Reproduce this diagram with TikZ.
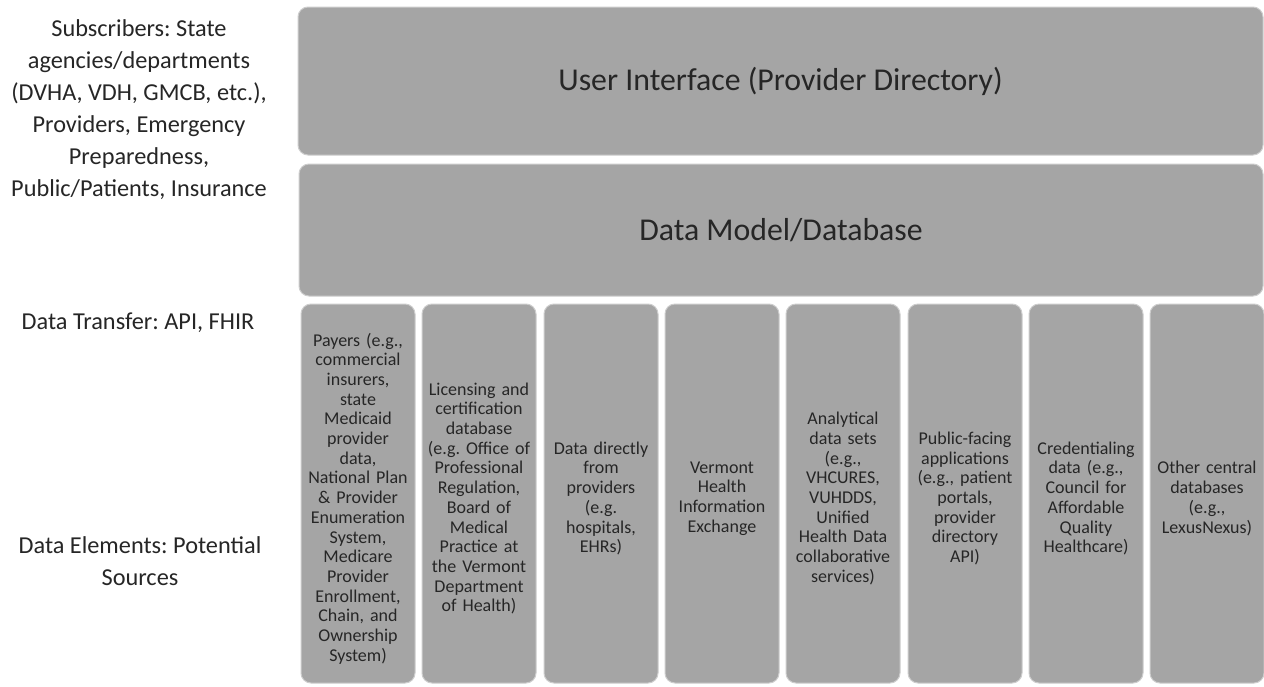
\documentclass[tikz,border=0pt]{standalone}
\usepackage{fontspec}
\setmainfont{Carlito}
\frenchspacing
\definecolor{boxgray}{RGB}{165,165,165}
\definecolor{edgegray}{RGB}{205,205,205}
\definecolor{txt}{RGB}{38,38,38}
\tikzset{
  bigbox/.style={rectangle, rounded corners=10pt, fill=boxgray, draw=edgegray, line width=1pt,
    text=txt, font=\fontsize{31.8}{36}\selectfont, inner sep=0pt},
  colbox/.style={rectangle, rounded corners=10pt, fill=boxgray, draw=edgegray, line width=1pt,
    minimum width=114pt, minimum height=379pt, inner sep=0pt},
  coltext/.style={text width=112pt, align=center,
    text=txt, font=\fontsize{18}{19.7}\selectfont, inner sep=0pt},
  sidelabel/.style={align=center, text=txt, font=\fontsize{24.3}{32}\selectfont, inner sep=0pt}
}
\newcommand{\column}[4]{%
  \node[colbox] (#1) at (#2,493.5) {};
  \node[coltext] (#1t) at ([yshift=-5pt]#1.center) {#3};}
\begin{document}
\begin{tikzpicture}[x=1pt,y=-1pt]
\useasboundingbox[fill=white] (0,0) rectangle (1264,686);
\node[bigbox, minimum width=965pt, minimum height=148pt] (ui) at (780.5,81) {User Interface (Provider Directory)};
\node[bigbox, minimum width=964pt, minimum height=132pt] (db) at (781,230) {Data Model/Database};
\column{c1}{358}{Payers (e.g.,\\commercial\\insurers,\\state\\Medicaid\\provider\\data,\\National Plan\\\& Provider\\Enumeration\\System,\\Medicare\\Provider\\Enrollment,\\Chain, and\\Ownership\\System)}{}
\column{c2}{479}{Licensing and\\certification\\database\\(e.g. Office of\\Professional\\Regulation,\\Board of\\Medical\\Practice at\\the Vermont\\Department\\of Health)}{}
\column{c3}{601}{Data directly\\from\\providers\\(e.g.\\hospitals,\\EHRs)}{}
\column{c4}{722}{Vermont\\Health\\Information\\Exchange}{}
\column{c5}{843}{Analytical\\data sets\\(e.g.,\\VHCURES,\\VUHDDS,\\Unified\\Health Data\\collaborative\\services)}{}
\column{c6}{965}{Public-facing\\applications\\(e.g., patient\\portals,\\provider\\directory\\API)}{}
\column{c7}{1086}{Credentialing\\data (e.g.,\\Council for\\Affordable\\Quality\\Healthcare)}{}
\column{c8}{1207}{Other central\\databases\\(e.g.,\\LexusNexus)}{}
\node[sidelabel] (subs) at (139,110) {Subscribers: State\\agencies/departments\\(DVHA, VDH, GMCB, etc.),\\Providers, Emergency\\Preparedness,\\Public/Patients, Insurance};
\node[sidelabel] (transfer) at (138,323) {Data Transfer: API, FHIR};
\node[sidelabel] (elements) at (140,561) {Data Elements: Potential\\Sources};
\end{tikzpicture}
\end{document}
